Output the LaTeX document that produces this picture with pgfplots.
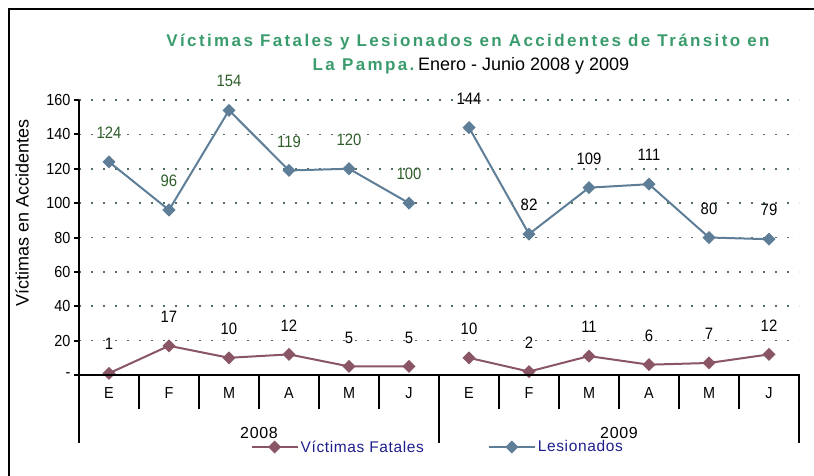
\documentclass[border=0pt]{standalone}
\usepackage{pgfplots}
\pgfplotsset{compat=1.18}
\usepackage{fontspec}
\setmainfont{Liberation Sans}
\newfontfamily\titlefont[LetterSpace=14]{Liberation Sans}
\newfontfamily\legfont[LetterSpace=4]{Liberation Sans}
\newfontfamily\narrow[FakeStretch=0.9]{Liberation Sans}
\definecolor{lesion}{HTML}{5E7E98}
\definecolor{fatal}{HTML}{8A5565}
\definecolor{titlegreen}{HTML}{3A9C6C}
\definecolor{labgreen}{HTML}{2F5E2A}
\definecolor{griddot}{HTML}{4F6F60}
\definecolor{legblue}{HTML}{1F1F8C}
\begin{document}
\begin{tikzpicture}[x=1pt,y=1pt]
\useasboundingbox (0,0) rectangle (814,475);
\draw[line width=2pt] (9,-5) -- (9,466) -- (820,466);
\begin{axis}[
  at={(79pt,100pt)}, anchor=south west,
  scale only axis, width=720pt, height=275pt,
  xmin=-0.5, xmax=11.5, ymin=0, ymax=160,
  clip=false,
  /pgf/number format/assume math mode=true,
  axis line style={draw=none},
  ytick={0,20,...,160},
  yticklabels={{-},20,40,60,80,100,120,140,160},
  tick align=outside,
  ytick pos=left,
  major tick length=5pt,
  major y tick style={line width=2pt,black},
  xtick={0,...,11},
  xticklabels={E,F,M,A,M,J,E,F,M,A,M,J},
  major x tick style={draw=none},
  tick label style={font=\narrow\fontsize{16}{16}\selectfont},
  xticklabel style={yshift=-4pt},
  ymajorgrids,
  major grid style={line width=1.6pt, griddot, dash pattern=on 1.6pt off 10.4pt},
  every axis plot/.append style={line width=2pt, mark=square*, mark size=3.6pt, mark options={rotate=45,solid}},
  nodes near coords,
  every node near coord/.append style={font=\narrow\fontsize{16.5}{16.5}\selectfont, anchor=center, yshift=29pt, black},
  legend columns=2,
  legend style={at={(axis description cs:0.234,-0.262)}, anchor=west, draw=none, fill=none,
    font=\legfont\fontsize{15.5}{15.5}\selectfont, text=legblue,
    /tikz/every even column/.append style={column sep=62pt}},
  legend image code/.code={\draw[mark repeat=2,mark phase=2,#1] plot coordinates {(0pt,0pt) (23pt,0pt) (46pt,0pt)};},
]
\addplot[fatal] coordinates {(0,1) (1,17) (2,10) (3,12) (4,5) (5,5)};
\addlegendentry{Víctimas Fatales}
\addplot[lesion, every node near coord/.append style={text=labgreen}] coordinates {(0,124) (1,96) (2,154) (3,119) (4,120) (5,100)};
\addlegendentry{Lesionados}
\addplot[fatal, forget plot] coordinates {(6,10) (7,2) (8,11) (9,6) (10,7) (11,12)};
\addplot[lesion, forget plot] coordinates {(6,144) (7,82) (8,109) (9,111) (10,80) (11,79)};
\end{axis}
% axes and separators
\draw[line width=2.5pt] (79,375) -- (79,32);
\draw[line width=2.5pt] (78,100) -- (800,100);
\foreach \k in {1,2,3,4,5,7,8,9,10,11} {\draw[line width=2.5pt] (79+60*\k,100) -- (79+60*\k,66);}
\foreach \k in {6,12} {\draw[line width=2.5pt] (79+60*\k,100) -- (79+60*\k,32);}
\node[font=\legfont\fontsize{16}{16}\selectfont] at (259,42) {2008};
\node[font=\legfont\fontsize{16}{16}\selectfont] at (619,42) {2009};
\node[rotate=90, font=\fontsize{18}{18}\selectfont] at (22,262) {Víctimas en Accidentes};
\node[font=\titlefont\bfseries\fontsize{17}{17}\selectfont, text=titlegreen] at (468,433) {Víctimas Fatales y Lesionados en Accidentes de Tránsito en};
\node at (471,409) {{\titlefont\bfseries\fontsize{17}{17}\selectfont\color{titlegreen}La Pampa.} {\fontsize{18}{18}\selectfont Enero - Junio 2008 y 2009}};
\end{tikzpicture}
\end{document}
